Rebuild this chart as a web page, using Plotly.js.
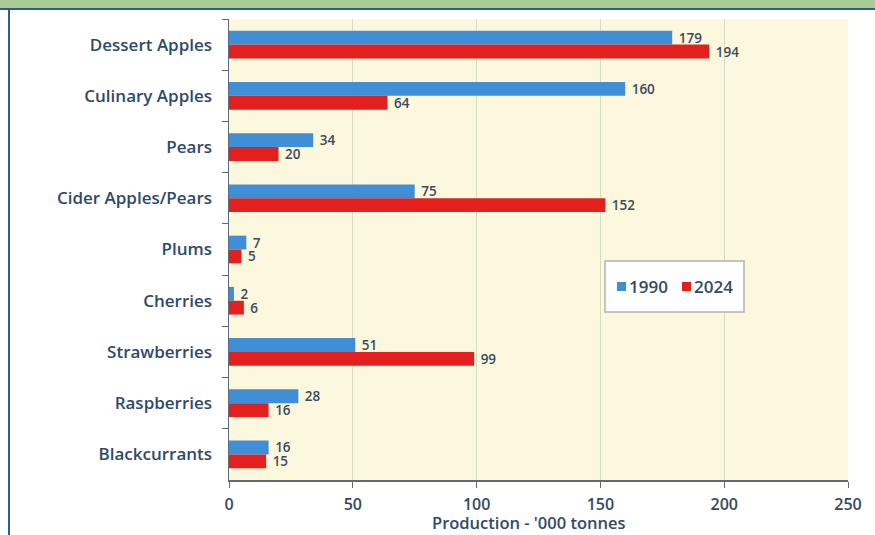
<!DOCTYPE html>
<html><head><meta charset="utf-8">
<script src="https://cdn.plot.ly/plotly-3.0.1.min.js"></script>
<style>
html,body{margin:0;padding:0;background:#fff;}
#wrap{position:relative;width:875px;height:535px;overflow:hidden;}
#chart{position:absolute;left:0;top:0;width:875px;height:535px;}
.deco{position:absolute;pointer-events:none;}
</style></head>
<body><div id="wrap"><div id="chart"></div>
<div class="deco" style="left:0;top:0;width:875px;height:8px;background:#a9cb93;"></div>
<div class="deco" style="left:0;top:8px;width:875px;height:2px;background:#2f5b95;"></div>
<div class="deco" style="left:8px;top:8px;width:2px;height:527px;background:#2f5b95;"></div>
</div>
<script>
const categories = ["Dessert Apples","Culinary Apples","Pears","Cider Apples/Pears","Plums","Cherries","Strawberries","Raspberries","Blackcurrants"];
const values1990 = [179,160,34,75,7,2,51,28,16];
const values2024 = [194,64,20,152,5,6,99,16,15];
const seriesNames = ["1990","2024"];
const seriesColors = ["#3f8ed8","#e4201e"];
const xTicks = [0,50,100,150,200,250];
const xTitle = "Production - '000 tonnes";

const FONT = "Open Sans, sans-serif";
const txtFont = {family:FONT, size:13.5, color:"#3b4a5c", weight:600};
const lab = v => "\u00a0" + String(v);
const data = [
  {type:"bar", orientation:"h", name:seriesNames[0], y:categories, x:values1990,
   marker:{color:seriesColors[0]}, text:values1990.map(lab), textposition:"outside",
   constraintext:"none", cliponaxis:false, textfont:txtFont},
  {type:"bar", orientation:"h", name:seriesNames[1], y:categories, x:values2024,
   marker:{color:seriesColors[1]}, text:values2024.map(lab), textposition:"outside",
   constraintext:"none", cliponaxis:false, textfont:txtFont}
];

// custom compact legend (box + swatches + labels)
const L = 229, W = 619, T = 19, H = 461;
const px = v => (v - L) / W, py = v => (T + H - v) / H;
const shapes = [
  {type:"rect", xref:"paper", yref:"paper", x0:px(605), x1:px(744), y0:py(312), y1:py(261),
   fillcolor:"#ffffff", line:{color:"#b3b3b3", width:1.5}, layer:"above"},
  {type:"rect", xref:"paper", yref:"paper", x0:px(617), x1:px(626), y0:py(291), y1:py(282),
   fillcolor:seriesColors[0], line:{width:0}, layer:"above"},
  {type:"rect", xref:"paper", yref:"paper", x0:px(682), x1:px(691), y0:py(291), y1:py(282),
   fillcolor:seriesColors[1], line:{width:0}, layer:"above"}
];
const annotations = [
  {xref:"paper", yref:"paper", x:px(627), y:py(286.5), xanchor:"left", yanchor:"middle",
   text:seriesNames[0], showarrow:false, font:{family:FONT, size:17, color:"#34495f", weight:600}},
  {xref:"paper", yref:"paper", x:px(692), y:py(286.5), xanchor:"left", yanchor:"middle",
   text:seriesNames[1], showarrow:false, font:{family:FONT, size:17, color:"#34495f", weight:600}},
  {xref:"paper", yref:"paper", x:px(528.5), y:py(535), xanchor:"center", yanchor:"bottom",
   borderpad:0, text:xTitle, showarrow:false, font:{family:FONT, size:16.5, color:"#2e4a6b", weight:600}}
];

const layout = {
  width:875, height:535,
  margin:{l:229, r:27, t:19, b:55},
  paper_bgcolor:"#ffffff", plot_bgcolor:"#fbf8de",
  barmode:"group", bargap:0.46, bargroupgap:0,
  font:{family:FONT, color:"#2e4a6b"},
  showlegend:false,
  shapes:shapes, annotations:annotations,
  xaxis:{range:[0,250], tickvals:xTicks, ticktext:xTicks.map(String),
    showgrid:true, gridcolor:"#d6dcc4", gridwidth:1, zeroline:false,
    showline:true, linecolor:"#5d6b78", linewidth:1.5,
    ticks:"outside", ticklen:6, tickcolor:"#5d6b78", ticklabelstandoff:3,
    tickfont:{size:16, color:"#34495f", weight:600}},
  yaxis:{type:"category", autorange:"reversed", showgrid:false, zeroline:false,
    showline:true, linecolor:"#5d6b78", linewidth:1.5,
    ticks:"outside", ticklen:6, tickcolor:"#5d6b78", tickson:"boundaries",
    ticklabelstandoff:12,
    tickfont:{size:17, color:"#2e4a6b", weight:600}}
};
Plotly.newPlot("chart", data, layout, {displayModeBar:false, staticPlot:true});
</script></body></html>
